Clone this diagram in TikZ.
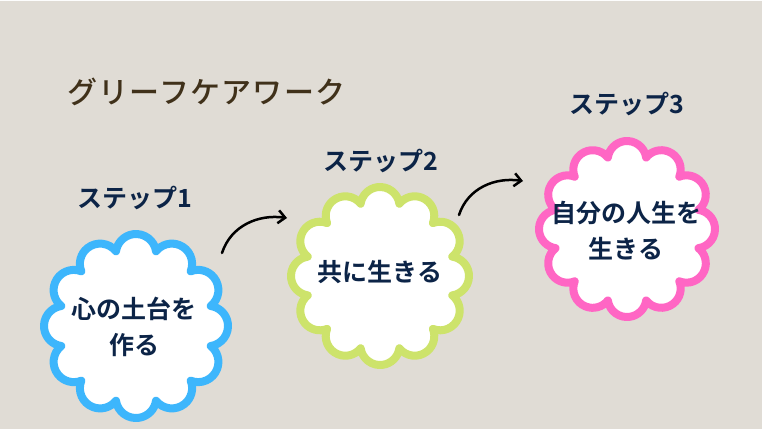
\documentclass[tikz,border=0pt]{standalone}
\usepackage{fontspec}
\setmainfont{Noto Sans CJK JP}[BoldFont={Noto Sans CJK JP Bold}]
\newfontfamily\titlefont{Noto Sans CJK JP Medium}[LetterSpace=4]
\usetikzlibrary{arrows.meta}
\definecolor{bgbeige}{HTML}{E0DCD5}
\definecolor{skyblue}{HTML}{3DB6FC}
\definecolor{limegreen}{HTML}{CDE36B}
\definecolor{hotpink}{HTML}{FF66C4}
\definecolor{darknavy}{HTML}{0C2447}
\definecolor{titlebrown}{HTML}{40311A}

% scalloped flower: centre coordinate, radius, colour
\newcommand{\flower}[3]{%
  \draw[petal, draw=#3] (#1) ++(90:{0.78*#2pt}) ++(8.4:{0.22*#2pt})
    foreach \k in {0,...,11} {arc[start angle={8.4+30*\k}, end angle={171.6+30*\k}, radius={0.22*#2pt}]} -- cycle;}

\begin{document}
\begin{tikzpicture}[x=1pt, y=1pt,
    petal/.style={fill=white, line width=8pt, line join=round},
    steplabel/.style={text=darknavy, font=\fontsize{25}{28}\selectfont\bfseries},
    flowertext/.style={text=darknavy, align=center, font=\fontsize{25}{36}\selectfont\bfseries},
    steparrow/.style={-{Straight Barb[length=7pt, width=13pt, line width=2.5pt]}, line width=2.5pt, line cap=round}]
  \fill[bgbeige] (0,0) rectangle (762,427.5);
  \fill[white!95!bgbeige] (0,427.5) rectangle (762,429);
  \useasboundingbox (0,0) rectangle (762,429);

  % title
  \node[anchor=west, text=titlebrown, font=\fontsize{30}{34}\selectfont\titlefont] (title) at (64,337) {グリーフケアワーク};

  % flower centres
  \coordinate (f1) at (136,103);
  \coordinate (f2) at (380,153);
  \coordinate (f3) at (627,200);
  \flower{f1}{92}{skyblue}
  \flower{f2}{89}{limegreen}
  \flower{f3}{88}{hotpink}

  \node[steplabel] (s1) at (135,231) {ステップ1};
  \node[steplabel] (s2) at (381,268) {ステップ2};
  \node[steplabel] (s3) at (627,325) {ステップ3};

  \node[flowertext] (t1) at (134,102.5) {心の土台を\\作る};
  \node[flowertext] (t2) at (380,157) {共に生きる};
  \node[flowertext] (t3) at (626,198.5) {自分の人生を\\生きる};

  % arrows between steps
  \coordinate (a1s) at (222,176);
  \coordinate (a1e) at (287,211);
  \coordinate (a2s) at (459,214);
  \coordinate (a2e) at (523,248);
  \draw[steparrow] (a1s) to[out=72, in=172] (a1e);
  \draw[steparrow] (a2s) to[out=72, in=172] (a2e);
\end{tikzpicture}
\end{document}
